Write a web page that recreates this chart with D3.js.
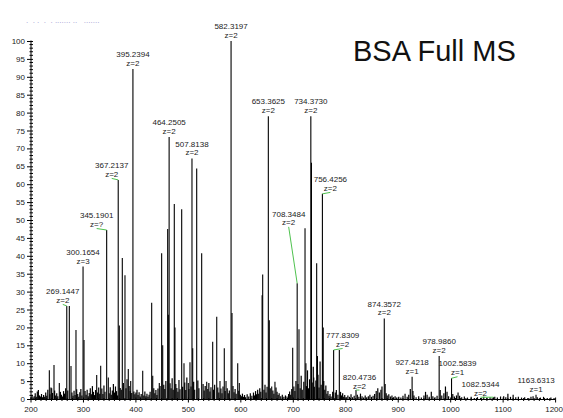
<!DOCTYPE html>
<html><head><meta charset="utf-8">
<script src="https://cdn.jsdelivr.net/npm/d3@7"></script>
<style>
html,body{margin:0;padding:0;background:#fff;}
svg{display:block;}
text{font-family:"Liberation Sans",Arial,sans-serif;}
</style></head>
<body>
<svg id="chart" width="563" height="418"></svg>
<script>
// ---- data ----
const peakMz  = [235.9,240.4,244.8,254.9,269.14,274.0,277.2,286.7,300.17,302.0,326.2,333.8,345.19,348.3,367.21,369.3,375.0,380.1,386.4,391.0,395.24,413.9,431.0,433.0,445.5,450.0,452.0,461.5,462.7,464.25,474.1,475.4,488.2,492.6,500.8,504.0,507.81,509.2,516.8,526.3,535.9,547.3,555.0,561.2,569.4,572.7,582.32,584.1,595.0,598.0,641.5,642.6,653.36,655.2,659.8,666.0,699.8,708.35,711.8,723.3,725.0,734.37,735.6,740.0,745.5,747.0,756.43,758.0,777.83,788.7,820.47,874.36,927.42,978.99,1002.58,1082.53,1163.63];
const peakInt = [8,3,9.5,4.5,26,26,9.2,19.3,37,16.5,6.7,9.3,47.2,6,61.2,20.5,39.4,34.6,8.4,5,92.2,7.9,26.9,6.5,4.5,40.7,15,47.5,23.5,73.2,54.5,20,53,10,4.5,10.3,67.2,14.2,64.4,40.7,4.8,16,23,5,14.2,5,100,24,10,4.5,29,34.8,79,22,3.5,4.8,14.3,32.3,19.5,47.7,10,79,66,6,37.9,12,57.3,20,13.7,13.7,2.5,22.5,6.2,12,5.8,0.5,1.2];

const noiseMz = [201,203,205,207,209,211,213,215,217,219,221,223,225,227,229,231,233,237,239,242,246,248,250,252,257,259,261,263,265,267,271,279,281,283,285,288,290,292,294,296,298,
304,306,308,310,312,314,316,318,320,322,324,328,330,332,336,338,340,342,350,352,354,356,358,360,362,364,366,371,373,377,382,384,388,390,393,397,399,
401,403,405,407,409,411,416,418,420,422,424,426,428,435,437,439,441,443,447,454,456,458,466,468,470,472,477,479,481,483,485,490,494,496,498,
502,506,511,513,519,521,529,531,533,538,540,542,544,549,551,557,559,563,565,567,571,575,577,579,586,588,590,592,597,600,
602,604,606,608,610,613,616,619,622,625,627,629,631,633,635,637,639,645,647,649,651,657,662,664,668,670,672,674,677,680,683,686,689,692,694,696,698,
702,704,706,710,714,716,718,721,726,728,730,732,737,739,741,744,748,750,752,754,759,761,763,765,767,769,771,773,776,781,783,786,791,793,795,797,799,
802,805,808,811,814,817,823,826,829,832,835,838,841,844,847,850,853,856,859,862,865,868,870,876,878,880,883,886,889,892,895,898,
902,906,910,914,918,921,924,929,931,935,940,945,950,953,956,960,964,967,971,975,981,984,988,991,994,997,1005,1008,1012,1015,1018,1022,1027,1033,1040,1046,1052,1058,1064,1070,1076,1085,1090,1096,1102,1106,1110,1115,1120,1125,1130,1136,1142,1148,1154,1158,1166,1172,1178,1185,1192,1198];
const noiseInt = [0.5,1.2,0.4,0.8,1.6,0.6,2.1,2.5,1.0,0.7,1.4,0.5,1.1,0.6,1.8,0.9,2.6,1.3,3.2,1.7,2.4,1.0,1.6,0.8,2.0,1.2,0.7,2.2,1.5,3.0,2.4,1.8,0.9,2.3,1.1,2.7,1.4,0.6,1.9,2.8,1.0,
2.2,1.2,2.6,0.8,1.7,3.0,1.3,3.6,2.0,1.1,2.5,1.8,3.2,1.5,2.9,1.4,3.8,2.0,1.6,3.3,1.2,2.4,4.2,1.8,3.5,2.2,1.0,3.1,2.6,4.5,3.0,5.5,3.6,2.2,1.7,2.1,1.3,
1.8,2.6,1.1,1.9,0.7,1.4,1.0,2.1,0.8,1.5,0.6,1.2,2.0,3.0,1.6,2.5,1.1,2.9,3.6,4.0,2.8,5.0,4.4,3.0,5.8,2.6,4.2,3.1,2.0,5.3,2.7,3.4,4.6,2.5,6.0,
2.8,3.5,4.8,2.6,5.2,3.0,4.2,2.4,3.6,2.8,4.5,2.1,3.3,2.6,4.0,3.2,1.8,2.9,1.6,3.5,2.2,3.0,1.6,2.4,3.6,1.9,2.8,1.5,2.3,1.2,
0.8,1.5,0.6,1.1,0.5,1.3,0.7,1.6,0.9,1.8,1.0,2.2,1.3,2.6,1.5,3.0,2.0,2.6,4.0,1.8,3.4,3.0,2.4,1.5,3.2,2.0,1.1,1.6,0.8,1.2,0.6,1.0,0.7,1.4,2.1,1.2,2.8,
3.5,2.2,5.0,4.2,3.0,6.5,2.6,4.8,3.6,8.0,3.0,5.5,4.6,9.0,3.4,5.2,6.8,3.2,10.5,4.0,5.0,2.6,3.8,1.5,2.2,0.9,1.4,0.7,2.0,1.8,2.5,1.2,2.0,1.0,1.6,0.6,1.1,
0.5,1.0,0.6,1.3,0.5,0.9,1.2,0.6,1.5,0.8,0.4,1.0,0.5,0.8,1.2,0.6,0.9,1.4,2.2,3.0,1.8,2.6,3.5,4.2,1.6,1.0,1.3,0.7,1.0,0.5,0.8,0.4,
0.6,0.4,0.9,1.5,0.6,1.2,2.8,2.2,1.0,0.5,0.8,0.4,1.0,2.0,1.2,0.6,2.0,0.8,0.5,0.9,2.5,1.0,1.6,3.5,2.0,0.8,1.4,0.7,1.0,1.8,0.9,0.5,0.7,0.4,0.6,0.3,0.5,0.3,0.6,0.4,0.5,0.6,0.4,0.7,0.8,0.5,1.5,0.6,1.2,0.5,0.6,0.4,0.5,0.3,0.6,0.8,0.5,0.4,0.6,0.3,0.4,0.3];

const labelMz   = [269.14,300.17,345.19,367.21,395.24,464.25,507.81,582.32,653.36,708.35,734.37,756.43,777.83,820.47,874.36,927.42,978.99,1002.58,1082.53,1163.63];
const labelText = ["269.1447","300.1654","345.1901","367.2137","395.2394","464.2505","507.8138","582.3197","653.3625","708.3484","734.3730","756.4256","777.8309","820.4736","874.3572","927.4218","978.9860","1002.5839","1082.5344","1163.6313"];
const labelZ    = ["z=2","z=3","z=?","z=2","z=2","z=2","z=2","z=2","z=2","z=2","z=2","z=2","z=2","z=2","z=2","z=1","z=2","z=1","z=2","z=1"];

const xTicks = [200,300,400,500,600,700,800,900,1000,1100,1200];
const yTicks = [0,5,10,15,20,25,30,35,40,45,50,55,60,65,70,75,80,85,90,95,100];

// ---- layout (label offsets in px) ----
const labelDx = [-4,0,-10,-6.5,0,0,0,0,0,-8.5,0,8,9,3.5,0,0,0,6,-13,0];
const labelDy = [0,0,0,0,0,0,0,0,0,-55,0,0,0,1.5,0,0,0,0,1.5,0];

const svg = d3.select("#chart");
const x = d3.scaleLinear().domain([200,1200]).range([30.5,555.1]);
const y = d3.scaleLinear().domain([0,100]).range([399,41]);
const font = '"Liberation Sans",Arial,sans-serif';

// faint clipped header line
svg.append("text").attr("x",26).attr("y",23)
  .attr("font-family","DejaVu Sans Mono").attr("font-size",8)
  .attr("fill","#9a9ad0").style("white-space","pre")
  .text(".  . .  .  . ....... ..   .......");

// title
svg.append("text").attr("x",353).attr("y",60.5)
  .attr("font-family",font).attr("font-size",29).attr("fill","#111")
  .text("BSA Full MS");

// noise
svg.append("g").selectAll("line").data(d3.range(noiseMz.length)).join("line")
  .attr("x1",i=>x(noiseMz[i])).attr("x2",i=>x(noiseMz[i]))
  .attr("y1",y(0)).attr("y2",i=>y(noiseInt[i]))
  .attr("stroke","#000").attr("stroke-width",1.2);

// peaks
svg.append("g").selectAll("line").data(d3.range(peakMz.length)).join("line")
  .attr("x1",i=>x(peakMz[i])).attr("x2",i=>x(peakMz[i]))
  .attr("y1",y(0)).attr("y2",i=>y(peakInt[i]))
  .attr("stroke","#000").attr("stroke-width",1.1);

// axes
const yAxis = d3.axisLeft(y).tickValues(yTicks).tickSize(4).tickPadding(2).tickFormat(d3.format("d"));
const gy = svg.append("g").attr("transform","translate(31,0)").call(yAxis);
gy.select(".domain").remove();
gy.selectAll(".tick line").attr("x2",-4).attr("x1",2).attr("stroke","#000");
gy.selectAll("text").attr("font-family",font).attr("font-size",8).attr("fill","#222");
gy.append("line").attr("x1",0).attr("x2",0).attr("y1",y(100)-0.5).attr("y2",y(0)).attr("stroke","#000");
gy.append("g").selectAll("line").data(d3.range(0,101,1).filter(v=>v%5!==0)).join("line")
  .attr("x1",-1.5).attr("x2",2).attr("y1",d=>y(d)).attr("y2",d=>y(d)).attr("stroke","#000");

const xAxis = d3.axisBottom(x).tickValues(xTicks).tickSize(4).tickPadding(3).tickFormat(d3.format("d"));
const gx = svg.append("g").attr("transform","translate(0,399.5)").call(xAxis);
gx.select(".domain").remove();
gx.selectAll(".tick line").attr("y1",-2).attr("y2",3).attr("stroke","#000");
gx.selectAll("text").attr("font-family",font).attr("font-size",8).attr("fill","#222")
  .attr("dx",d=>d===1200?-1.5:0);
gx.append("line").attr("x1",x(200)).attr("x2",x(1200)).attr("y1",0).attr("y2",0).attr("stroke","#000");
gx.append("g").selectAll("line").data(d3.range(210,1200,10).filter(v=>v%100!==0)).join("line")
  .attr("x1",d=>x(d)).attr("x2",d=>x(d)).attr("y1",-1.5).attr("y2",1.5).attr("stroke","#000");

// labels
const gl = svg.append("g");
labelMz.forEach((m,i)=>{
  const px = x(m);
  const iPeak = peakMz.indexOf(m);
  const top = y(peakInt[iPeak]);
  const lx = px + labelDx[i];
  const zb = top - 3 + labelDy[i];
  if (labelDx[i] !== 0 || labelDy[i] !== 0) {
    gl.append("line").attr("x1",lx).attr("y1",zb+1.5).attr("x2",px).attr("y2",top)
      .attr("stroke","#4fc24f").attr("stroke-width",1);
  }
  gl.append("text").attr("x",lx).attr("y",zb-8.8).attr("text-anchor","middle")
    .attr("font-family",font).attr("font-size",8).attr("fill","#222").text(labelText[i]);
  gl.append("text").attr("x",lx).attr("y",zb).attr("text-anchor","middle")
    .attr("font-family",font).attr("font-size",8).attr("fill","#222").text(labelZ[i]);
});
</script>
</body></html>
